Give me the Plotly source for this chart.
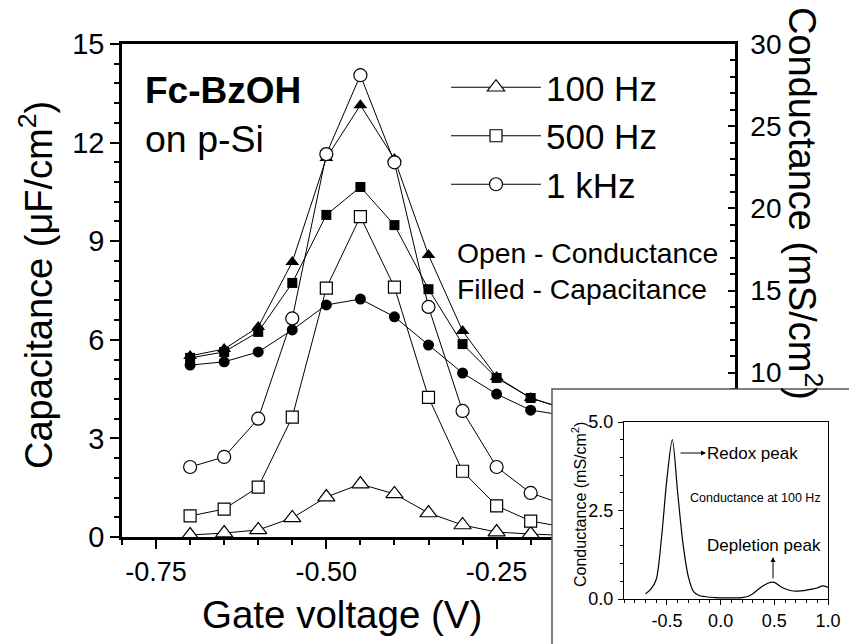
import plotly.graph_objects as go

# ---------------- data ----------------
voltage = [-0.70, -0.65, -0.60, -0.55, -0.50, -0.45, -0.40, -0.35, -0.30, -0.25, -0.20, -0.15]

cap_100 = [5.51, 5.72, 6.39, 8.37, 11.53, 13.14, 11.50, 8.58, 6.27, 4.87, 4.23, 3.90]
cap_500 = [5.45, 5.63, 6.24, 7.73, 9.80, 10.65, 9.49, 7.54, 5.87, 4.84, 4.23, 3.90]
cap_1k = [5.23, 5.33, 5.63, 6.30, 7.06, 7.24, 6.70, 5.84, 4.99, 4.35, 3.86, 3.70]

cond_100 = [0.12, 0.24, 0.43, 1.16, 2.43, 3.22, 2.62, 1.46, 0.73, 0.30, 0.18, 0.10]
cond_500 = [1.28, 1.70, 3.04, 7.30, 15.15, 19.50, 15.20, 8.50, 4.00, 1.90, 0.97, 0.60]
cond_1k = [4.26, 4.87, 7.20, 13.30, 23.30, 28.10, 22.80, 14.00, 7.67, 4.26, 2.68, 1.95]

series_names = ["100 Hz", "500 Hz", "1 kHz"]

inset_v = [-0.70, -0.65, -0.60, -0.55, -0.50, -0.45, -0.40, -0.35, -0.30, -0.25, -0.20,
           -0.15, -0.10, -0.05, 0.00, 0.05, 0.10, 0.15, 0.20, 0.25, 0.30, 0.35, 0.40,
           0.45, 0.50, 0.55, 0.60, 0.65, 0.70, 0.75, 0.80, 0.85, 0.90, 0.95, 1.00]
inset_g = [0.15, 0.28, 0.55, 1.75, 3.40, 4.50, 3.00, 1.55, 0.62, 0.20, 0.10,
           0.07, 0.05, 0.04, 0.03, 0.03, 0.03, 0.03, 0.04, 0.07, 0.15, 0.27, 0.38,
           0.46, 0.47, 0.37, 0.29, 0.24, 0.22, 0.23, 0.25, 0.28, 0.31, 0.37, 0.33]

x_ticks = [-0.75, -0.50, -0.25]
x_ticklabels = ["-0.75", "-0.50", "-0.25"]
y_ticks = [0, 3, 6, 9, 12, 15]
y2_ticks = [10, 15, 20, 25, 30]
inset_xticks = [-0.5, 0.0, 0.5, 1.0]
inset_xticklabels = ["-0.5", "0.0", "0.5", "1.0"]
inset_yticks = [0.0, 2.5, 5.0]
inset_yticklabels = ["0.0", "2.5", "5.0"]

# ---------------- figure ----------------
W, H = 849, 644
FONT = "Liberation Sans, Arial, Helvetica, sans-serif"


def px(x):
    return x / W


def py(y):
    return 1 - y / H


fig = go.Figure()

cap_sets = [(cap_100, "triangle-up", 12), (cap_500, "square", 10), (cap_1k, "circle", 11)]
for vals, sym, sz in cap_sets:
    fig.add_trace(go.Scatter(
        x=voltage, y=vals, mode="lines+markers", xaxis="x", yaxis="y",
        line=dict(color="black", width=1),
        marker=dict(symbol=sym, size=sz, color="black", line=dict(color="black", width=0)),
        showlegend=False, hoverinfo="skip"))

cond_sets = [(cond_100, "triangle-up", 15), (cond_500, "square", 12), (cond_1k, "circle", 13)]
for (vals, sym, sz), name in zip(cond_sets, series_names):
    fig.add_trace(go.Scatter(
        x=voltage, y=vals, mode="lines+markers", xaxis="x", yaxis="y2", name=name,
        line=dict(color="black", width=1),
        marker=dict(symbol=sym, size=sz, color="white", line=dict(color="black", width=1.2)),
        hoverinfo="skip"))

# white panel behind the inset (covers the main plot there)
fig.add_trace(go.Scatter(
    x=[0, 1, 1, 0, 0], y=[0, 0, 1, 1, 0], xaxis="x3", yaxis="y3", mode="lines",
    fill="toself", fillcolor="white", line=dict(width=0, color="white"),
    showlegend=False, hoverinfo="skip"))

# inset curve
fig.add_trace(go.Scatter(
    x=inset_v, y=inset_g, xaxis="x4", yaxis="y4", mode="lines",
    line=dict(color="black", width=1.2, shape="spline", smoothing=0.8),
    showlegend=False, hoverinfo="skip"))

main_x_dom = [px(122), px(735)]
main_y_dom = [py(537), py(44)]

fig.update_layout(
    width=W, height=H,
    margin=dict(l=0, r=0, t=0, b=0, pad=0, autoexpand=False),
    paper_bgcolor="white", plot_bgcolor="rgba(0,0,0,0)",
    font=dict(family=FONT, color="black"),
    xaxis=dict(domain=main_x_dom, anchor="y", range=[-0.8, 0.1],
               tickmode="array", tickvals=x_ticks, ticktext=x_ticklabels,
               ticks="outside", ticklen=9, tickwidth=2, tickcolor="black",
               minor=dict(tick0=-0.8, dtick=0.05, ticks="outside", ticklen=5, tickwidth=1.5, tickcolor="black"),
               showline=True, linewidth=2.5, linecolor="black", mirror=True,
               showgrid=False, zeroline=False, tickfont=dict(size=27), automargin=False),
    yaxis=dict(domain=main_y_dom, anchor="x", range=[0, 15],
               tickmode="array", tickvals=y_ticks,
               ticks="outside", ticklen=9, tickwidth=2, tickcolor="black",
               minor=dict(tick0=0, dtick=0.6, ticks="outside", ticklen=5, tickwidth=1.5, tickcolor="black"),
               showline=True, linewidth=2.5, linecolor="black",
               showgrid=False, zeroline=False, tickfont=dict(size=29), automargin=False),
    yaxis2=dict(overlaying="y", side="right", anchor="x", range=[0, 30],
                tickmode="array", tickvals=y2_ticks,
                ticks="inside", ticklen=7, tickwidth=2, tickcolor="black",
                minor=dict(tick0=0, dtick=1, ticks="inside", ticklen=5, tickwidth=1.5, tickcolor="black"),
                showline=True, linewidth=2.5, linecolor="black", ticklabelstandoff=7,
                showgrid=False, zeroline=False, tickfont=dict(size=28), automargin=False),
    xaxis3=dict(domain=[px(552), 1], anchor="y3", range=[0, 1], visible=False, fixedrange=True),
    yaxis3=dict(domain=[0, py(389)], anchor="x3", range=[0, 1], visible=False, fixedrange=True),
    xaxis4=dict(domain=[px(624), px(828)], anchor="y4", range=[-0.9, 1.0],
                tickmode="array", tickvals=inset_xticks, ticktext=inset_xticklabels,
                ticks="outside", ticklen=5, tickwidth=1, tickcolor="black",
                minor=dict(tick0=-0.9, dtick=0.1, ticks="outside", ticklen=3, tickwidth=1, tickcolor="black"),
                showline=True, linewidth=1.2, linecolor="black", mirror=True,
                showgrid=False, zeroline=False, tickfont=dict(size=18), automargin=False),
    yaxis4=dict(domain=[py(599), py(422)], anchor="x4", range=[0, 5],
                tickmode="array", tickvals=inset_yticks, ticktext=inset_yticklabels,
                ticks="outside", ticklen=5, tickwidth=1, tickcolor="black",
                minor=dict(tick0=0, dtick=0.5, ticks="outside", ticklen=3, tickwidth=1, tickcolor="black"),
                showline=True, linewidth=1.2, linecolor="black", mirror=True, ticklabelstandoff=1,
                showgrid=False, zeroline=False, tickfont=dict(size=18), automargin=False),
    legend=dict(x=px(446), y=py(58), xanchor="left", yanchor="top",
                bgcolor="rgba(0,0,0,0)", borderwidth=0, itemwidth=90,
                font=dict(size=35), traceorder="normal"),
    showlegend=True,
)

# inset frame
fig.add_shape(type="rect", xref="paper", yref="paper",
              x0=px(552), y0=-0.05, x1=1.05, y1=py(389),
              line=dict(color="#555555", width=1.5), layer="above")

ann = [
    dict(text="Gate voltage (V)", x=px(342), y=py(614), font=dict(size=38.5)),
    dict(text="Capacitance (\u03bcF/cm<sup>2</sup>)", x=px(36), y=py(285), textangle=-90, font=dict(size=38)),
    dict(text="Conductance (mS/cm<sup>2</sup>)", x=px(805), y=py(203), textangle=90, font=dict(size=38)),
    dict(text="<b>Fc-BzOH</b>", x=px(143), y=py(91), xanchor="left", font=dict(size=37)),
    dict(text="on p-Si", x=px(143), y=py(139), xanchor="left", font=dict(size=37.5)),
    dict(text="Open - Conductance", x=px(455), y=py(253), xanchor="left", font=dict(size=28.3)),
    dict(text="Filled - Capacitance", x=px(455), y=py(289), xanchor="left", font=dict(size=28.3)),
    dict(text="Conductance (mS/cm<sup>2</sup>)", x=px(579), y=py(505), textangle=-90, font=dict(size=16)),
    dict(text="Redox peak", x=px(705), y=py(453), xanchor="left", font=dict(size=17)),
    dict(text="Conductance at 100 Hz", x=px(755), y=py(498), font=dict(size=12.5)),
    dict(text="Depletion peak", x=px(705), y=py(545), xanchor="left", font=dict(size=17)),
]
for a in ann:
    a.setdefault("xanchor", "center")
    a.setdefault("yanchor", "middle")
    fig.add_annotation(xref="paper", yref="paper", showarrow=False, **a)

# arrows in the inset
fig.add_annotation(xref="paper", yref="paper", x=px(706), y=py(453), ax=-27, ay=0, text="",
                   showarrow=True, arrowhead=2, arrowsize=1, arrowwidth=1, arrowcolor="black")
fig.add_annotation(xref="paper", yref="paper", x=px(773), y=py(557), ax=0, ay=23, text="",
                   showarrow=True, arrowhead=2, arrowsize=1, arrowwidth=1, arrowcolor="black")

fig.write_html("out.html")
